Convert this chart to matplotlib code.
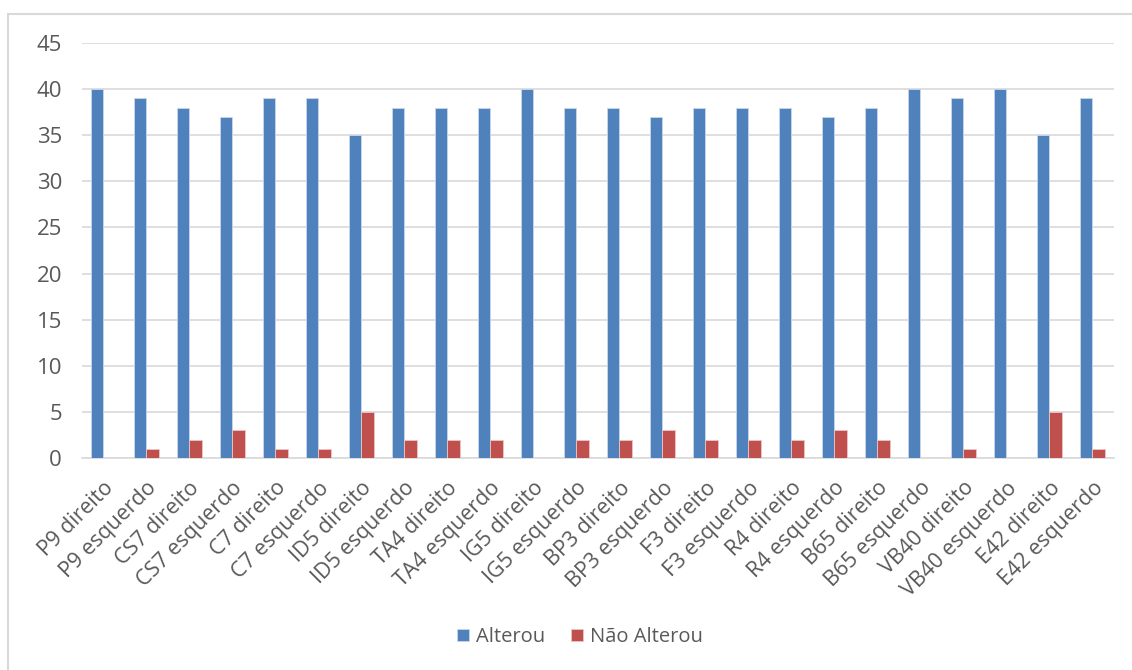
import matplotlib
matplotlib.use("Agg")
import matplotlib.pyplot as plt
import numpy as np
from matplotlib.patches import Rectangle

categories = ["P9 direito", "P9 esquerdo", "CS7 direito", "CS7 esquerdo", "C7 direito",
              "C7 esquerdo", "ID5 direito", "ID5 esquerdo", "TA4 direito", "TA4 esquerdo",
              "IG5 direito", "IG5 esquerdo", "BP3 direito", "BP3 esquerdo", "F3 direito",
              "F3 esquerdo", "R4 direito", "R4 esquerdo", "B65 direito", "B65 esquerdo",
              "VB40 direito", "VB40 esquerdo", "E42 direito", "E42 esquerdo"]
alterou = [40, 39, 38, 37, 39, 39, 35, 38, 38, 38, 40, 38, 38, 37, 38, 38, 38, 37, 38, 40, 39, 40, 35, 39]
nao_alterou = [0, 1, 2, 3, 1, 1, 5, 2, 2, 2, 0, 2, 2, 3, 2, 2, 2, 3, 2, 0, 1, 0, 5, 1]
series_names = ["Alterou", "Não Alterou"]
yticks = [0, 5, 10, 15, 20, 25, 30, 35, 40, 45]

plt.rcParams['font.family'] = ['Open Sans', 'DejaVu Sans']

W, H = 1132, 670
fig = plt.figure(figsize=(W / 100, H / 100), dpi=100)

# chart-area border
fig.patches.append(Rectangle((8 / W, -0.1), 1.2, 1 - 14 / H + 0.1, transform=fig.transFigure,
                             fill=False, edgecolor='#D9D9D9', linewidth=1.5, zorder=0))

ax = fig.add_axes([81.5 / W, 1 - 458 / H, (1114 - 81.5) / W, (458 - 43) / H])
x = np.arange(len(categories))
bw = 0.29
blue = '#4F81BD'
red = '#C0504D'
ax.bar(x - bw / 2, alterou, bw, color=blue, edgecolor='#C9D7EA', linewidth=0.6,
       label=series_names[0], zorder=3)
ax.bar(x + bw / 2, nao_alterou, bw, color=red, edgecolor='#EBC6C5', linewidth=0.6,
       label=series_names[1], zorder=3)

ax.set_xlim(-0.5, len(categories) - 0.5)
ax.set_ylim(0, 45)
ax.set_yticks(yticks)
ax.yaxis.grid(True, color='#D9D9D9', linewidth=1.2, zorder=0)
ax.set_axisbelow(True)
for s in ['top', 'right', 'left']:
    ax.spines[s].set_visible(False)
ax.spines['bottom'].set_color('#D9D9D9')
ax.spines['bottom'].set_linewidth(1.2)
ax.tick_params(axis='both', length=0, colors='#595959')
ax.tick_params(axis='y', pad=14, labelsize=16)
ax.set_xticks(x)
ax.set_xticklabels(categories, rotation=45, ha='right', va='top', rotation_mode='anchor')
ax.tick_params(axis='x', pad=14, labelsize=15.5)

leg = fig.legend(loc='center', bbox_to_anchor=(580 / W, 1 - 637 / H), ncol=2, frameon=False,
                 fontsize=14.5, handlelength=0.6, handleheight=0.6, handletextpad=0.35,
                 columnspacing=1.3)
for t in leg.get_texts():
    t.set_color('#595959')

fig.savefig("out.png", dpi=100)
